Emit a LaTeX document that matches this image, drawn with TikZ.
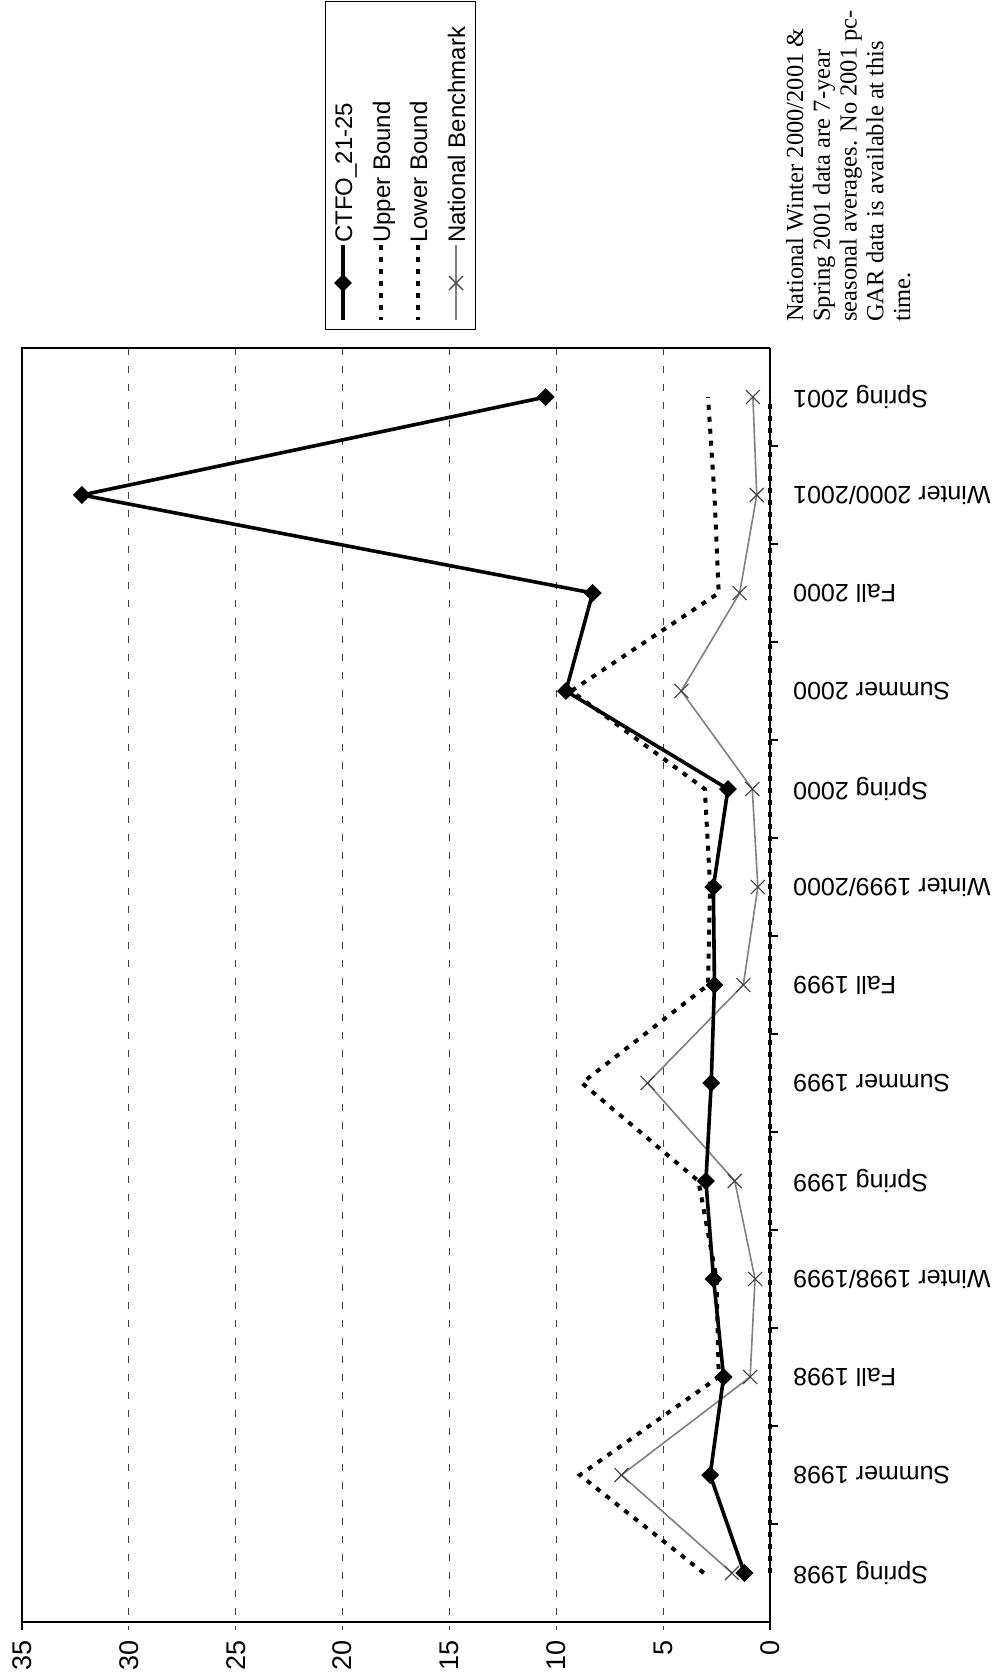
\documentclass[tikz,border=0pt]{standalone}
\usepackage{fontspec}
\setmainfont{Liberation Serif}
\setsansfont{Liberation Sans}
\usetikzlibrary{shapes.geometric}
\begin{document}
\begin{tikzpicture}[x=1pt,y=-1pt,
  grid/.style={black!75,line width=0.9,dash pattern=on 7 off 11},
  frame/.style={black,line width=1.6},
  axisline/.style={black,line width=2.2},
  tickmark/.style={black,line width=1.2},
  ctfo/.style={black,line width=3.6,line join=round},
  bound/.style={black,line width=4,dash pattern=on 5 off 7},
  nat/.style={black!50,line width=1.6},
  diam/.style={diamond,fill=black,inner sep=0pt,minimum width=18pt,minimum height=18pt},
  natx/.style={black!75,line width=1.1},
  vlab/.style={font=\sffamily\fontsize{27}{30}\selectfont,rotate=90,anchor=east,inner sep=0pt},
  clab/.style={font=\sffamily\fontsize{25}{30}\selectfont,rotate=180,anchor=east,inner sep=0pt},
  leg/.style={font=\sffamily\fontsize{24}{28}\selectfont,rotate=90,anchor=base west,inner sep=0pt},
  note/.style={font=\fontsize{24.5}{27}\selectfont,rotate=90,anchor=base west,inner sep=0pt}]

\useasboundingbox (0,0) rectangle (1006,1675);
\fill[white] (0,0) rectangle (1006,1675);

% plot frame
\coordinate (TL) at (22,348);
\coordinate (TR) at (770,348);
\coordinate (BL) at (22,1622);
\coordinate (BR) at (770,1622);

% gridlines
\foreach \v in {5,10,...,30}
  \draw[grid] ({770-21.37*\v},348) -- ({770-21.37*\v},1630);

\draw[frame] (BR) -- (BL) -- (TL) -- (TR);
\draw[axisline] (TR) -- (BR);

% category ticks
\foreach \k in {1,...,12}
  \draw[tickmark] (770,{348+98*\k}) -- (778,{348+98*\k});
\draw[tickmark] (BL) -- (22,1630);
\draw[tickmark] (BR) -- (770,1630);

% value labels
\foreach \v in {0,5,...,35}
  \node[vlab] (val\v) at ({770-21.37*\v},1640) {\v};

% category labels
\foreach \t [count=\i from 0] in {Spring 1998,Summer 1998,Fall 1998,Winter 1998/1999,Spring 1999,Summer 1999,Fall 1999,Winter 1999/2000,Spring 2000,Summer 2000,Fall 2000,Winter 2000/2001,Spring 2001}
  \node[clab] (cat\i) at (793,{1573-98*\i}) {\t};

% data coordinates
\foreach \v [count=\i from 0] in {1.2,2.8,2.17,2.64,3.0,2.75,2.6,2.65,1.97,9.55,8.3,32.2,10.5}
  \coordinate (c\i) at ({770-21.37*\v},{1573-98*\i});
\foreach \v [count=\i from 0] in {3.1,8.9,2.4,2.5,3.35,8.8,2.9,2.8,3.05,9.3,2.4,2.6,2.9}
  \coordinate (u\i) at ({770-21.37*\v},{1573-98*\i});
\foreach \v [count=\i from 0] in {0,0,0,0,0,0,0,0,0,0,0,0,0}
  \coordinate (l\i) at ({770-21.37*\v},{1573-98*\i});
\foreach \v [count=\i from 0] in {1.78,6.95,0.93,0.7,1.65,5.73,1.25,0.57,0.83,4.15,1.42,0.62,0.8}
  \coordinate (n\i) at ({770-21.37*\v},{1573-98*\i});

% series
\draw[bound] (l0) \foreach \i in {1,...,12}{ -- (l\i)};
\draw[nat] (n0) \foreach \i in {1,...,12}{ -- (n\i)};
\foreach \i in {0,...,12}{
  \draw[natx] ([shift={(-7,-7)}]n\i) -- ([shift={(7,7)}]n\i);
  \draw[natx] ([shift={(-7,7)}]n\i) -- ([shift={(7,-7)}]n\i);
}
\draw[bound] (u0) \foreach \i in {1,...,12}{ -- (u\i)};
\draw[ctfo] (c0) \foreach \i in {1,...,12}{ -- (c\i)};
\foreach \i in {0,...,12}
  \node[diam] (d\i) at (c\i) {};

% legend
\draw[black,line width=1] (325,2) rectangle (475,329);
\coordinate (la0) at (343,245); \coordinate (la1) at (343,320);
\coordinate (lb0) at (381,245); \coordinate (lb1) at (381,320);
\coordinate (lc0) at (418,245); \coordinate (lc1) at (418,320);
\coordinate (ld0) at (456,245); \coordinate (ld1) at (456,320);
\coordinate (ldm) at (456,283);
\draw[ctfo] (la0) -- (la1);
\node[diam] (legd) at (343,283) {};
\draw[bound] (lb0) -- (lb1);
\draw[bound] (lc0) -- (lc1);
\draw[nat] (ld0) -- (ld1);
\draw[natx] ([shift={(-7,-7)}]ldm) -- ([shift={(7,7)}]ldm);
\draw[natx] ([shift={(-7,7)}]ldm) -- ([shift={(7,-7)}]ldm);
\node[leg] (legA) at (352,243) {CTFO\_21-25};
\node[leg] (legB) at (390,243) {Upper Bound};
\node[leg] (legC) at (427,243) {Lower Bound};
\node[leg] (legD) at (465,243) {National Benchmark};

% note
\node[note] (note1) at (803,322) {National Winter 2000/2001 \&};
\node[note] (note2) at (829.75,322) {Spring 2001 data are 7-year};
\node[note] (note3) at (856.5,322) {seasonal averages. No 2001 pc-};
\node[note] (note4) at (883.25,322) {GAR data is available at this};
\node[note] (note5) at (910,322) {time.};
\end{tikzpicture}
\end{document}
